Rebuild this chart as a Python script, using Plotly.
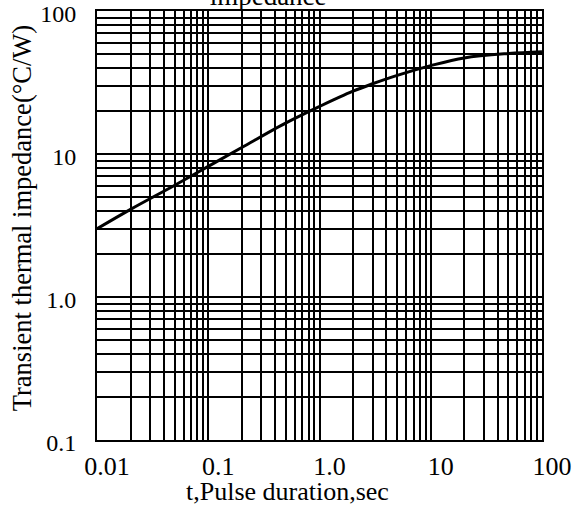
import plotly.graph_objects as go

# Data (log-log curve)
pulse_duration = [0.01, 0.02, 0.05, 0.1, 0.2, 0.5, 1.0, 2.0, 3.0, 5.0, 10.0, 20.0, 50.0, 100.0]
impedance = [3.0, 4.1, 6.05, 8.2, 11.1, 16.5, 21.5, 27.5, 31.0, 35.5, 41.5, 47.0, 50.5, 52.0]

x_tickvals = [0.01, 0.1, 1, 10, 100]
x_ticktext = ["0.01", "0.1", "1.0", "10", "100"]
y_tickvals = [0.1, 1, 10, 100]
y_ticktext = ["0.1", "1.0", "10", "100"]

title_text = "Transient thermal<br>impedance"
x_title = "t,Pulse duration,sec"
y_title = "Transient thermal impedance(°C/W)"

FONT = "Liberation Serif"

fig = go.Figure()
fig.add_trace(go.Scatter(
    x=pulse_duration, y=impedance, mode="lines",
    line=dict(color="black", width=3, shape="spline", smoothing=1.0),
    showlegend=False, hoverinfo="skip",
))

axis_common = dict(
    type="log", automargin=False,
    showgrid=True, gridcolor="black", gridwidth=2.2,
    showline=True, linecolor="black", linewidth=2, mirror=True,
    zeroline=False, ticks="",
    tickmode="array", ticklabeloverflow="allow",
    minor=dict(showgrid=True, gridcolor="black", gridwidth=1.7, dtick="D1", tickmode="linear"),
)

fig.update_xaxes(**axis_common, range=[-2.0003, 2.0003], tickvals=x_tickvals, ticktext=x_ticktext,
                 tickfont=dict(family=FONT, size=26, color="black"),
                 ticklabelshift=10, ticklabelstandoff=2)
fig.update_yaxes(**axis_common, range=[-1.0003, 2.0003], tickvals=y_tickvals, ticktext=y_ticktext,
                 tickfont=dict(family=FONT, size=24, color="black"),
                 ticklabelstandoff=14, ticklabelshift=3)

fig.update_layout(
    width=577, height=507,
    margin=dict(l=97, r=35, t=11, b=67, pad=0),
    paper_bgcolor="white", plot_bgcolor="white",
    font=dict(family=FONT, size=26, color="black"),
    annotations=[
        dict(text=title_text, xref="paper", yref="paper", x=0.384, y=1.0, yshift=-2,
             xanchor="center", yanchor="bottom", showarrow=False,
             font=dict(family=FONT, size=27, color="black")),
        dict(text=x_title, xref="paper", yref="paper", x=0.429, y=-0.119,
             xanchor="center", yanchor="middle", showarrow=False,
             font=dict(family=FONT, size=26, color="black")),
        dict(text=y_title, xref="paper", yref="paper", x=-0.1685, y=0.517,
             xanchor="center", yanchor="middle", showarrow=False, textangle=-90,
             font=dict(family=FONT, size=26.5, color="black")),
    ],
)

fig.write_html("out.html", config={"displayModeBar": False},
               post_script="document.body.style.margin='0px';")
